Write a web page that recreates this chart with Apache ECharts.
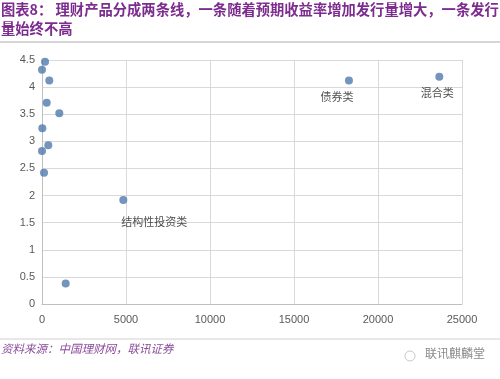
<!DOCTYPE html>
<html><head><meta charset="utf-8">
<script src="https://cdn.jsdelivr.net/npm/echarts@6/dist/echarts.min.js"></script>
<style>html,body{margin:0;padding:0;background:#fff;}#c{width:500px;height:379px;}</style>
</head><body><div id="c"></div>
<script>
const titleLine1 = "图表8： 理财产品分成两条线，一条随着预期收益率增加发行量增大，一条发行";
const titleLine2 = "量始终不高";
const sourceText = "资料来源：中国理财网，联讯证券";
const watermark = "联讯麒麟堂";
const issueVolume = [180, 0, 435, 280, 1030, 20, 375, 0, 120, 4840, 1410, 18270, 23650];
const expectedYield = [4.47, 4.32, 4.12, 3.71, 3.52, 3.24, 2.93, 2.82, 2.42, 1.92, 0.38, 4.12, 4.19];
const pointLabels = ["", "", "", "", "", "", "", "", "", "结构性投资类", "", "债券类", "混合类"];
const xTicks = [0, 5000, 10000, 15000, 20000, 25000];
const yTicks = [0, 0.5, 1, 1.5, 2, 2.5, 3, 3.5, 4, 4.5];

const labelOffsets = {"结构性投资类": [-2, 22, 'left'], "债券类": [-12, 16, 'center'], "混合类": [-2, 16, 'center']};
const data = issueVolume.map((x, i) => {
  const d = {value: [x, expectedYield[i]]};
  const lb = pointLabels[i];
  if (lb) {
    const o = labelOffsets[lb];
    d.label = {show: true, formatter: lb, position: 'inside', offset: [o[0], o[1]], align: o[2],
      color: '#222', fontSize: 11, fontFamily: 'Noto Sans CJK SC'};
  }
  return d;
});

const chart = echarts.init(document.getElementById('c'), null, {renderer: 'canvas'});
const axisLabel = {color: '#595959', fontSize: 11, fontFamily: 'Liberation Sans, Arial'};
chart.setOption({
  animation: false,
  backgroundColor: '#fff',
  graphic: [
    {type: 'text', left: 1, top: 2, style: {text: titleLine1, fill: '#7b2c8e', font: 'bold 14.3px "Noto Sans CJK SC"'}},
    {type: 'text', left: 1, top: 21, style: {text: titleLine2, fill: '#7b2c8e', font: 'bold 14.3px "Noto Sans CJK SC"'}},
    {type: 'line', shape: {x1: 0, y1: 42, x2: 500, y2: 42}, style: {stroke: '#d6d6d6', lineWidth: 2}},
    {type: 'line', shape: {x1: 0, y1: 339, x2: 500, y2: 339}, style: {stroke: '#d0d0d0', lineWidth: 1}},
    {type: 'text', left: 1, top: 343, style: {text: sourceText, fill: '#8a4d9a', font: 'italic 11.5px "Noto Sans CJK SC"'}},
    {type: 'text', left: 425, top: 347, style: {text: watermark, fill: '#8a8a8a', font: '12px "Noto Sans CJK SC"'}},
    {type: 'circle', shape: {cx: 410, cy: 356, r: 5}, style: {fill: 'none', stroke: '#c8c8c8', lineWidth: 1}}
  ],
  grid: {left: 42, right: 38, top: 60, bottom: 75},
  xAxis: {
    type: 'value', min: xTicks[0], max: xTicks[xTicks.length - 1], interval: 5000,
    axisLine: {show: true, lineStyle: {color: '#bfbfbf'}},
    axisTick: {show: false},
    splitLine: {show: true, lineStyle: {color: '#d9d9d9'}},
    axisLabel: Object.assign({margin: 10, formatter: v => String(v)}, axisLabel)
  },
  yAxis: {
    type: 'value', min: yTicks[0], max: yTicks[yTicks.length - 1], interval: 0.5,
    axisLine: {show: true, lineStyle: {color: '#bfbfbf'}},
    axisTick: {show: false},
    splitLine: {show: true, lineStyle: {color: '#d9d9d9'}},
    axisLabel: Object.assign({margin: 7}, axisLabel)
  },
  series: [{
    type: 'scatter', symbolSize: 8, data: data,
    itemStyle: {color: '#4f79ad'}
  }]
});
</script></body></html>
